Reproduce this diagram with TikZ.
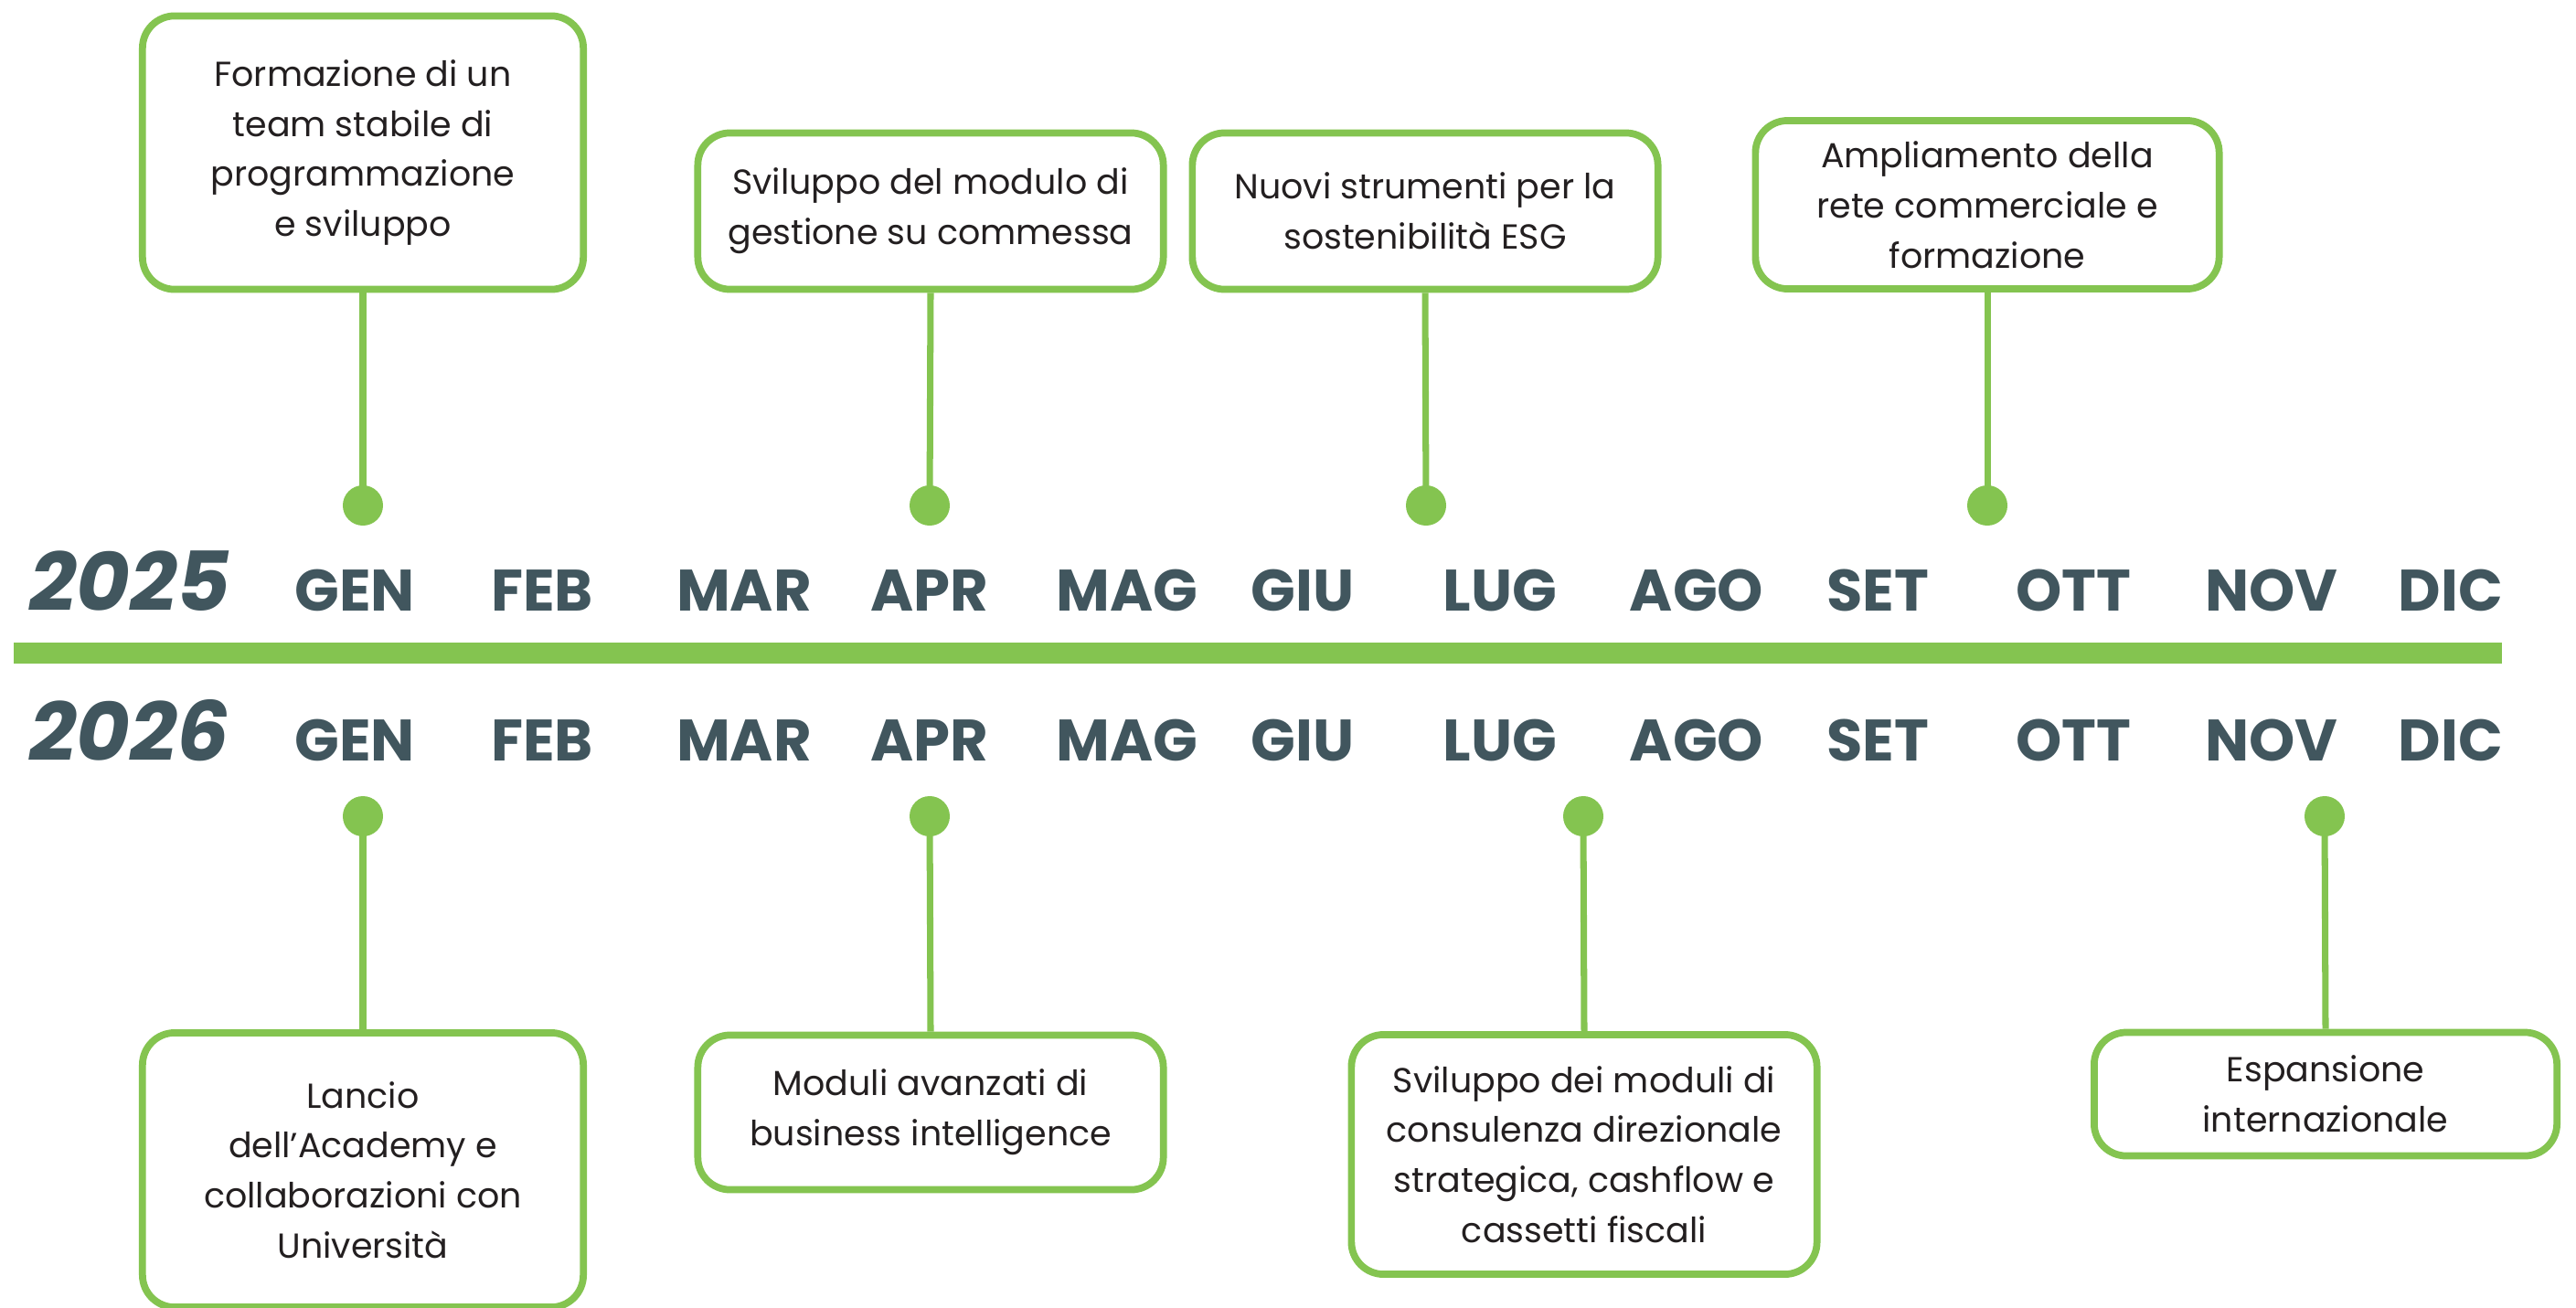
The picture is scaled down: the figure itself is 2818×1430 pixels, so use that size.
\documentclass[tikz,border=0pt]{standalone}
\usepackage{fontspec}
\setmainfont{Poppins}
\usetikzlibrary{positioning}
\definecolor{leafgreen}{HTML}{84C450}
\definecolor{slate}{HTML}{41565E}
\definecolor{ink}{HTML}{231F20}
\tikzset{
  goal/.style={draw=leafgreen, line width=2.2pt, rounded corners=10pt, fill=white,
    align=center, inner sep=0pt, text=ink, font=\fontsize{10.8}{15.6}\selectfont},
  pin/.style={circle, fill=leafgreen, minimum size=0.44cm, inner sep=0pt},
  stem/.style={leafgreen, line width=2pt},
  month/.style={anchor=base, text=slate, font=\bfseries\fontsize{18.2}{20}\selectfont},
  year/.style={anchor=base west, text=slate, font=\bfseries\itshape\fontsize{25.6}{28}\selectfont}
}
\begin{document}
\begin{tikzpicture}[x=0.01cm,y=-0.01cm]
  \useasboundingbox (0,0) rectangle (2818,1430);
  % timeline bar
  \fill[leafgreen] (15,703) rectangle (2737,726);
  \node[year] (y25) at (20,668) {2025};
  \node[year] (y26) at (20,832) {2026};
  \foreach \m/\x in {GEN/388,FEB/593,MAR/814,APR/1017,MAG/1233,GIU/1425,
                     LUG/1641,AGO/1856,SET/2054,OTT/2268,NOV/2485,DIC/2681} {
    \node[month] (a\m) at (\x,668) {\m}; % 2025 row
    \node[month] (b\m) at (\x,832) {\m}; % 2026 row
  }

  % obiettivi 2025
  \node[goal, minimum width=4.82cm, minimum height=2.99cm] (t1) at (397,167)
    {Formazione di un\\team stabile di\\programmazione\\e sviluppo};
  \node[goal, minimum width=5.09cm, minimum height=1.71cm] (t2) at (1018,231)
    {Sviluppo del modulo di\\gestione su commessa};
  \node[goal, minimum width=5.09cm, minimum height=1.71cm] (t3) at (1559,231)
    {Nuovi strumenti per la\\sostenibilità ESG};
  \node[goal, minimum width=5.07cm, minimum height=1.84cm] (t4) at (2174,224)
    {Ampliamento della\\rete commerciale e\\formazione};
  \foreach \n/\x in {1/397,2/1017,3/1560,4/2174} {
    \node[pin] (p\n) at (\x,553) {};
    \draw[stem] (t\n.south) -- (p\n.center);
  }

  % obiettivi 2026
  \node[goal, minimum width=4.82cm, minimum height=3.00cm] (u1) at (397,1280)
    {Lancio\\dell’Academy e\\collaborazioni con\\Università};
  \node[goal, minimum width=5.09cm, minimum height=1.69cm] (u2) at (1018,1217)
    {Moduli avanzati di\\business intelligence};
  \node[goal, minimum width=5.09cm, minimum height=2.62cm] (u3) at (1733,1263)
    {Sviluppo dei moduli di\\consulenza direzionale\\strategica, cashflow e\\cassetti fiscali};
  \node[goal, minimum width=5.06cm, minimum height=1.35cm] (u4) at (2544,1197)
    {Espansione\\internazionale};
  \foreach \n/\x in {1/397,2/1017,3/1732,4/2543} {
    \node[pin] (q\n) at (\x,893) {};
    \draw[stem] (u\n.north) -- (q\n.center);
  }
\end{tikzpicture}
\end{document}
